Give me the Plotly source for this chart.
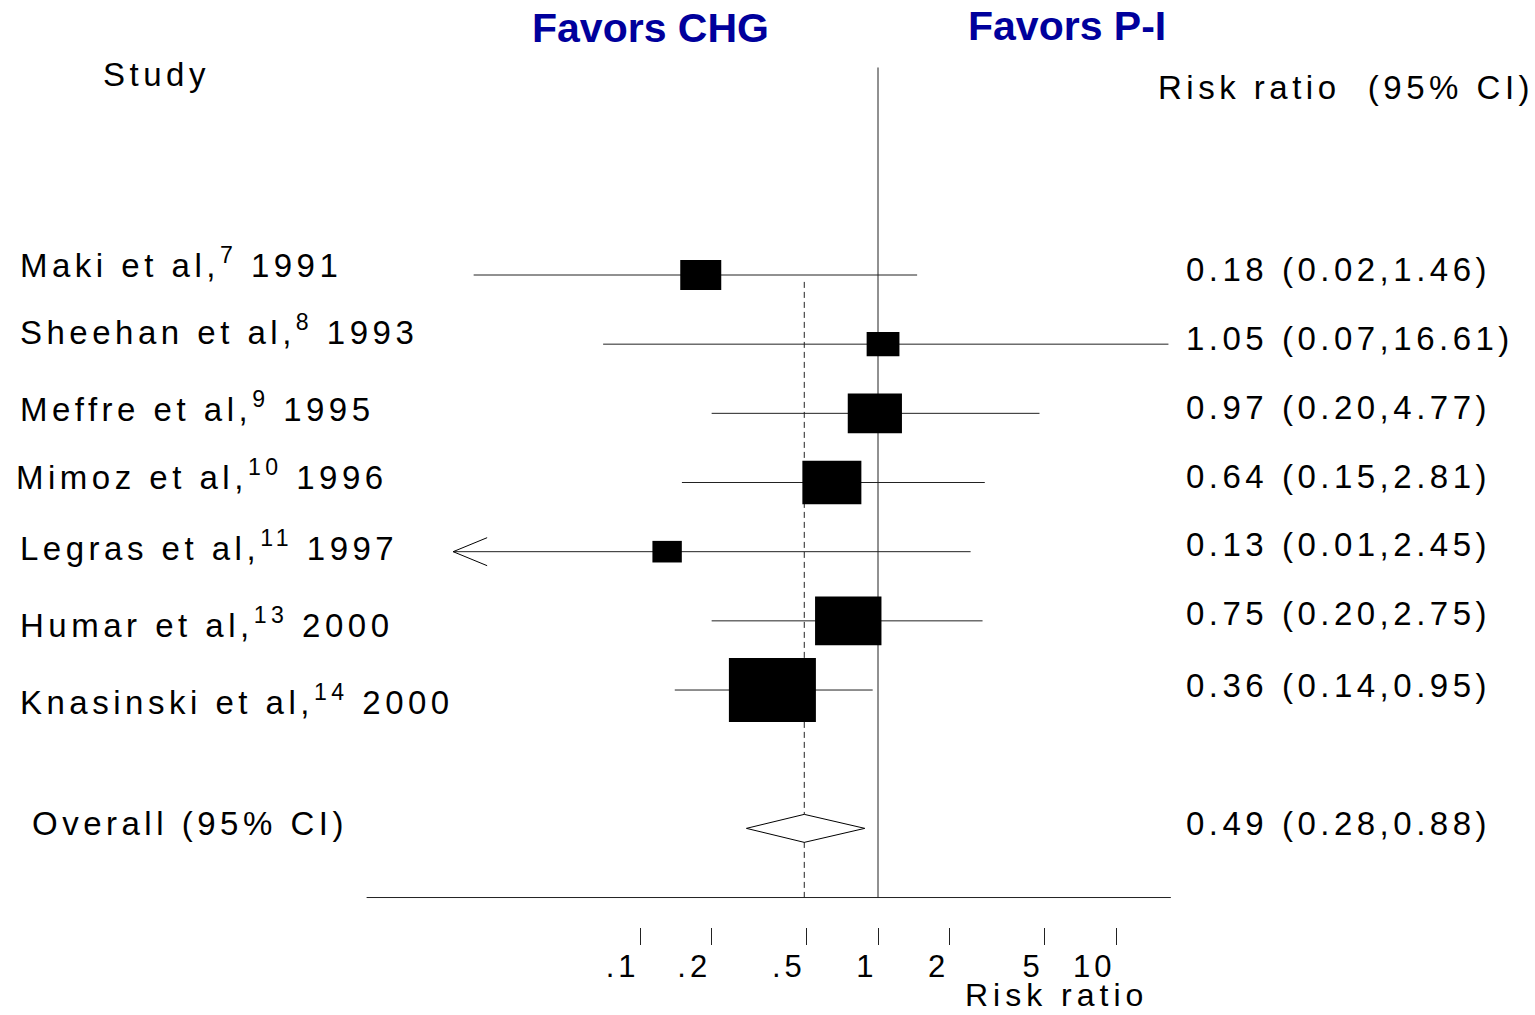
import math
import plotly.graph_objects as go

# ---------------- data ----------------
studies = ["Maki et al,", "Sheehan et al,", "Meffre et al,", "Mimoz et al,",
           "Legras et al,", "Humar et al,", "Knasinski et al,"]
refs = ["7", "8", "9", "10", "11", "13", "14"]
years = ["1991", "1993", "1995", "1996", "1997", "2000", "2000"]
rr = [0.18, 1.05, 0.97, 0.64, 0.13, 0.75, 0.36]
ci_lo = [0.02, 0.07, 0.20, 0.15, 0.01, 0.20, 0.14]
ci_hi = [1.46, 16.61, 4.77, 2.81, 2.45, 2.75, 0.95]
weights = [7.6, 4.9, 13.3, 15.8, 3.9, 20.0, 34.4]

overall_label = "Overall (95% CI)"
overall_rr = 0.49
overall_lo = 0.28
overall_hi = 0.88

tick_vals = [0.1, 0.2, 0.5, 1, 2, 5, 10]
tick_text = [".1", ".2", ".5", "1", "2", "5", "10"]

# display limits of the plotted scale
CLIP_LO = 0.0164
AXIS_LO = 0.0071
AXIS_HI = 17.0

# ---------------- layout helpers ----------------
W, H = 1535, 1015
PLOT_H = 945
FONT = "Liberation Sans, Arial, sans-serif"
BLUE = "#00009c"
LINE = "#222222"


def px_x(p):
    return p / W


def px_y(p):
    return 1 - p / PLOT_H


def sp(text, ls=4.5):
    return f'<span style="letter-spacing:{ls}px">{text}</span>'


rows = list(range(len(studies)))
overall_row = len(studies) + 1

fig = go.Figure()

# CI lines
for i in rows:
    lo = max(ci_lo[i], CLIP_LO)
    fig.add_trace(go.Scatter(x=[lo, ci_hi[i]], y=[i, i], mode="lines",
                             line=dict(color=LINE, width=1),
                             hoverinfo="skip", showlegend=False))

shapes = []
# reference line at 1
shapes.append(dict(type="line", xref="x", yref="y", x0=1, x1=1, y0=-3, y1=9,
                   line=dict(color=LINE, width=1)))
# dashed line at overall estimate
shapes.append(dict(type="line", xref="x", yref="y", x0=overall_rr, x1=overall_rr,
                   y0=0.1, y1=9, line=dict(color=LINE, width=1, dash="6px,4px")))
# horizontal axis line
shapes.append(dict(type="line", xref="x", yref="y", x0=AXIS_LO, x1=AXIS_HI,
                   y0=9, y1=9, line=dict(color=LINE, width=1)))

# weighted boxes (area proportional to weight)
for i in rows:
    w = 14.85 * math.sqrt(weights[i]) / 2
    h = 0.735 * w
    shapes.append(dict(type="path", xref="x", yref="y",
                       xsizemode="pixel", ysizemode="pixel",
                       xanchor=rr[i], yanchor=i,
                       path=f"M {-w:.1f},{-h:.1f} L {w:.1f},{-h:.1f} L {w:.1f},{h:.1f} L {-w:.1f},{h:.1f} Z",
                       fillcolor="black", line=dict(width=0)))

# arrows for clipped CIs
for i in rows:
    if ci_lo[i] < CLIP_LO:
        shapes.append(dict(type="path", xref="x", yref="y",
                           xsizemode="pixel", ysizemode="pixel",
                           xanchor=CLIP_LO, yanchor=i,
                           path="M 34,14 L 0,0 L 34,-14",
                           line=dict(color="black", width=1)))

# overall diamond
shapes.append(dict(type="path", xref="x", yref="y",
                   ysizemode="pixel", yanchor=overall_row,
                   path=f"M {overall_lo},0 L {overall_rr},14 L {overall_hi},0 L {overall_rr},-14 Z",
                   fillcolor="white", line=dict(color="black", width=1)))

annotations = []
# study labels
left_x = [18, 18, 18, 14, 18, 18, 18]
left_shift = [12, 14, 6, 8, 6, -2, -10]
for i in rows:
    txt = sp(f"{studies[i]}<sup>{refs[i]}</sup>\u00a0{years[i]}")
    annotations.append(dict(xref="paper", yref="y", x=px_x(left_x[i]), y=i,
                            xanchor="left", yanchor="middle", yshift=left_shift[i],
                            text=txt, showarrow=False,
                            font=dict(family=FONT, size=33, color="black")))
annotations.append(dict(xref="paper", yref="y", x=px_x(30), y=overall_row,
                        xanchor="left", yanchor="middle", yshift=5,
                        text=sp(overall_label), showarrow=False,
                        font=dict(family=FONT, size=33, color="black")))

# risk ratio column
right_shift = [6, 6, 6, 6, 7, 7, 5]
for i in rows:
    txt = sp(f"{rr[i]:.2f} ({ci_lo[i]:.2f},{ci_hi[i]:.2f})")
    annotations.append(dict(xref="paper", yref="y", x=px_x(1184), y=i,
                            xanchor="left", yanchor="middle", yshift=right_shift[i],
                            text=txt, showarrow=False,
                            font=dict(family=FONT, size=33, color="black")))
annotations.append(dict(xref="paper", yref="y", x=px_x(1184), y=overall_row,
                        xanchor="left", yanchor="middle", yshift=5,
                        text=sp(f"{overall_rr:.2f} ({overall_lo:.2f},{overall_hi:.2f})"),
                        showarrow=False,
                        font=dict(family=FONT, size=33, color="black")))

# headers
annotations.append(dict(xref="paper", yref="paper", x=px_x(101), y=px_y(74),
                        xanchor="left", yanchor="middle", text=sp("Study"),
                        showarrow=False, font=dict(family=FONT, size=33, color="black")))
annotations.append(dict(xref="paper", yref="paper", x=px_x(1156), y=px_y(87),
                        xanchor="left", yanchor="middle",
                        text=sp("Risk ratio\u00a0\u00a0(95% CI)"),
                        showarrow=False, font=dict(family=FONT, size=33, color="black")))
annotations.append(dict(xref="paper", yref="paper", x=px_x(650), y=px_y(28),
                        xanchor="center", yanchor="middle", text="<b>Favors CHG</b>",
                        showarrow=False, font=dict(family=FONT, size=41, color=BLUE)))
annotations.append(dict(xref="paper", yref="paper", x=px_x(1067), y=px_y(26),
                        xanchor="center", yanchor="middle", text="<b>Favors P-I</b>",
                        showarrow=False, font=dict(family=FONT, size=41, color=BLUE)))
# axis title
annotations.append(dict(xref="paper", yref="paper", x=px_x(963), y=px_y(995),
                        xanchor="left", yanchor="middle", text=sp("Risk ratio", 5),
                        showarrow=False, font=dict(family=FONT, size=32, color="black")))

x_lo = -878 / 238
x_hi = (W - 878) / 238
y_top = -275 / 69.17
y_bot = (PLOT_H - 275) / 69.17

fig.update_layout(
    width=W, height=H,
    margin=dict(l=0, r=0, t=0, b=H - PLOT_H, pad=0),
    paper_bgcolor="white", plot_bgcolor="white",
    showlegend=False,
    xaxis=dict(type="log", range=[x_lo, x_hi], domain=[0, 1],
               tickmode="array", tickvals=tick_vals,
               ticktext=[sp(t, 4) for t in tick_text],
               ticks="inside", ticklen=17, tickwidth=1, tickcolor=LINE,
               ticklabelposition="outside left",
               tickfont=dict(family=FONT, size=31, color="black"),
               showgrid=False, zeroline=False, showline=False, fixedrange=True),
    yaxis=dict(range=[y_bot, y_top], visible=False, showgrid=False,
               zeroline=False, fixedrange=True),
    shapes=shapes,
    annotations=annotations,
)

fig.write_html(
    "out.html",
    config={"displayModeBar": False},
    post_script="document.body.style.margin='0';document.body.style.overflow='hidden';",
)
